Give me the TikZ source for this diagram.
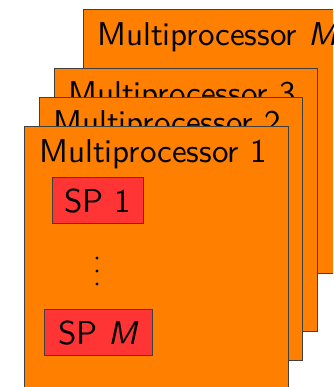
\documentclass[tikz,border=0pt]{standalone}
\usepackage{fontspec}
\setsansfont{lmsans10-regular.otf}[ItalicFont=lmsans10-oblique.otf]
\definecolor{mporange}{RGB}{255,128,0}
\definecolor{spred}{RGB}{255,53,53}
\begin{document}
\begin{tikzpicture}[x=1pt,y=-1pt,
  mpbox/.style={fill=mporange,draw=black!75,line width=1pt},
  mplabel/.style={anchor=base west,inner sep=0pt,font=\fontsize{33}{40}\selectfont\sffamily},
  spbox/.style={fill=spred,draw=black!75,line width=1pt,anchor=north west,
    inner xsep=12pt,inner ysep=11.5pt,text height=23pt,text depth=0pt,
    font=\fontsize{33}{40}\selectfont\sffamily},
  dotmark/.style={fill=black,circle,inner sep=0pt,minimum size=3.2pt}]
\useasboundingbox (0,0) rectangle (333,387);
\clip (0,0) rectangle (333,387);
% Multiprocessor M
\draw[mpbox] (83,10) rectangle (346,273);
\node[mplabel] (lm) at (97,46) {Multiprocessor \textit{M}};
% Multiprocessor 3
\draw[mpbox] (54,69) rectangle (317,331);
\node[mplabel] (l3) at (68,105) {Multiprocessor 3};
% Multiprocessor 2
\draw[mpbox] (39,98) rectangle (302,360);
\node[mplabel] (l2) at (53,134) {Multiprocessor 2};
% Multiprocessor 1
\draw[mpbox] (24,127) rectangle (288,392);
\node[mplabel] (l1) at (39,163) {Multiprocessor 1};
\node[spbox] (sp1) at (52,177) {SP 1};
\node[dotmark] (d1) at (97,258) {};
\node[dotmark] (d2) at (97,271) {};
\node[dotmark] (d3) at (97,284) {};
\node[spbox,minimum width=108pt] (spm) at (44,309) {SP \textit{M}};
\end{tikzpicture}
\end{document}
